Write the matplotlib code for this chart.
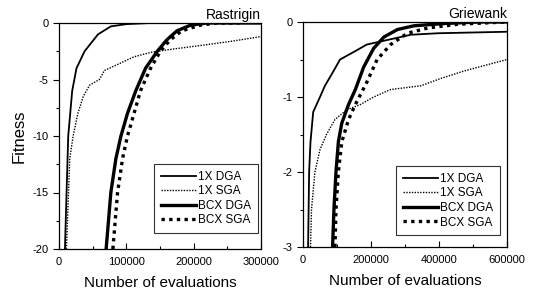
import matplotlib
matplotlib.use("Agg")
import matplotlib.pyplot as plt
from matplotlib.ticker import MultipleLocator

plt.rcParams['font.family'] = ['Liberation Sans', 'DejaVu Sans']

labels = ["1X DGA", "1X SGA", "BCX DGA", "BCX SGA"]

# Rastrigin (x: evaluations, y: fitness)
r_1x_dga_x = [8800, 13700, 19600, 26000, 38000, 58000, 77000, 100000, 136000, 300000]
r_1x_dga_y = [-20, -10, -6, -4, -2.5, -1, -0.3, -0.1, 0, 0]
r_1x_sga_x = [11000, 16000, 21000, 28000, 36000, 45500, 60000, 67500, 89500, 111000, 136000, 170000, 209000, 258000, 300000]
r_1x_sga_y = [-20, -12, -10, -8, -6.5, -5.5, -5, -4.2, -3.6, -3, -2.6, -2.3, -2, -1.6, -1.2]
r_bcx_dga_x = [70000, 77000, 84500, 92000, 101700, 114000, 128600, 146000, 160000, 175000, 195000, 219000, 300000]
r_bcx_dga_y = [-20, -15, -12, -10, -8, -6, -4, -2.5, -1.5, -0.7, -0.2, 0, 0]
r_bcx_sga_x = [80000, 87000, 94400, 101700, 111500, 121000, 136000, 150600, 165000, 182000, 209000, 234000, 268000]
r_bcx_sga_y = [-20, -15, -12, -10, -8, -6, -4, -2.5, -1.5, -0.7, -0.2, 0, 0]

# Griewank
g_1x_dga_x = [15000, 18000, 22000, 30000, 40000, 50000, 64500, 84000, 109000, 149000, 188000, 238000, 317000, 397000, 600000]
g_1x_dga_y = [-3, -2, -1.6, -1.2, -1.1, -1.0, -0.85, -0.7, -0.5, -0.4, -0.3, -0.25, -0.17, -0.15, -0.13]
g_1x_sga_x = [22000, 25000, 35000, 50000, 69000, 94000, 129000, 169000, 208000, 258000, 347000, 407000, 476000, 600000]
g_1x_sga_y = [-3, -2.5, -2, -1.7, -1.5, -1.3, -1.17, -1.1, -1.0, -0.9, -0.85, -0.75, -0.65, -0.5]
g_bcx_dga_x = [87000, 91000, 97000, 104000, 114000, 134000, 154000, 178500, 208000, 238000, 278000, 327000, 416000, 516000, 600000]
g_bcx_dga_y = [-3, -2.5, -2, -1.6, -1.35, -1.1, -0.9, -0.6, -0.35, -0.2, -0.1, -0.05, -0.02, 0, 0]
g_bcx_sga_x = [94000, 97000, 104000, 114000, 134000, 154000, 188000, 218000, 258000, 307000, 367000, 456000, 595000]
g_bcx_sga_y = [-3, -2.5, -2, -1.6, -1.3, -1.1, -0.8, -0.5, -0.3, -0.15, -0.08, -0.03, 0]

styles = [
    dict(color='black', lw=1.3, ls='-'),
    dict(color='black', lw=1.0, ls=(0, (1, 1))),
    dict(color='black', lw=2.4, ls='-'),
    dict(color='black', lw=2.4, ls=(0, (1, 1.3))),
]

fig = plt.figure(figsize=(5.39, 2.94), dpi=100)
ax1 = fig.add_axes([59/539, 45/294, 202/539, 226/294])
ax2 = fig.add_axes([303/539, 47/294, 204/539, 225/294])

def draw(ax, series, xmax, ymin, xmaj, xmin_, ymaj, ymin_, title, anchor):
    for (x, y), lab, st in zip(series, labels, styles):
        ax.plot(x, y, label=lab, **st)
    ax.set_xlim(0, xmax)
    ax.set_ylim(ymin, 0)
    ax.xaxis.set_major_locator(MultipleLocator(xmaj))
    ax.xaxis.set_minor_locator(MultipleLocator(xmin_))
    ax.yaxis.set_major_locator(MultipleLocator(ymaj))
    ax.yaxis.set_minor_locator(MultipleLocator(ymin_))
    ax.xaxis.set_major_formatter(plt.FuncFormatter(lambda v, p: f"{int(v)}"))
    ax.yaxis.set_major_formatter(plt.FuncFormatter(lambda v, p: f"{v:g}"))
    ax.tick_params(axis='both', which='major', labelsize=8, length=4, width=0.8)
    ax.tick_params(axis='x', which='both', direction='in', pad=6)
    ax.tick_params(axis='y', which='both', direction='out')
    ax.tick_params(which='minor', length=2.5, width=0.8)
    for s in ax.spines.values():
        s.set_linewidth(0.9)
    ax.set_xlabel("Number of evaluations", fontsize=11, labelpad=6)
    ax.set_title(title, fontsize=10, loc='right', pad=3)
    leg = ax.legend(loc='lower right', bbox_to_anchor=anchor, fontsize=8.5, frameon=True,
                    fancybox=False, edgecolor='black', handlelength=3.0, handletextpad=0.2,
                    borderpad=0.55, labelspacing=0.22, borderaxespad=0.0)
    leg.get_frame().set_linewidth(0.8)

draw(ax1, [(r_1x_dga_x, r_1x_dga_y), (r_1x_sga_x, r_1x_sga_y),
           (r_bcx_dga_x, r_bcx_dga_y), (r_bcx_sga_x, r_bcx_sga_y)],
     300000, -20, 100000, 50000, 5, 2.5, "Rastrigin", (0.985, 0.071))
draw(ax2, [(g_1x_dga_x, g_1x_dga_y), (g_1x_sga_x, g_1x_sga_y),
           (g_bcx_dga_x, g_bcx_dga_y), (g_bcx_sga_x, g_bcx_sga_y)],
     600000, -3, 200000, 100000, 1, 0.5, "Griewank", (0.966, 0.053))

ax1.set_ylabel("Fitness", fontsize=12, labelpad=4)

fig.savefig("out.png", dpi=100)
